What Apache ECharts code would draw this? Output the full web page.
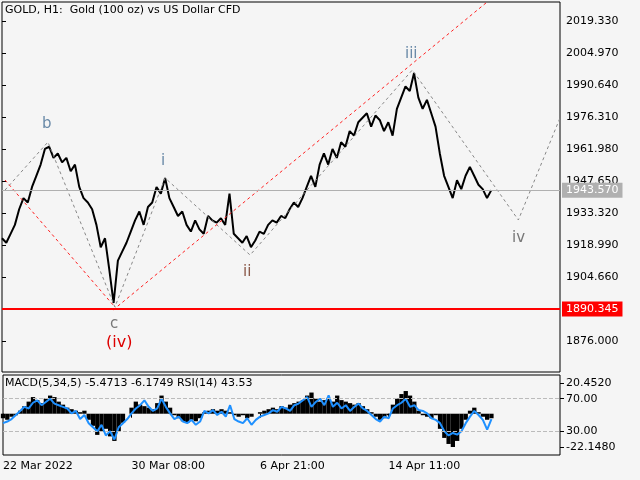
<!DOCTYPE html>
<html><head><meta charset="utf-8">
<script src="https://cdn.jsdelivr.net/npm/echarts@6/dist/echarts.min.js"></script>
<style>html,body{margin:0;background:#f5f5f5}#c{width:640px;height:480px}</style>
</head><body><div id="c"></div>
<script>
var closes=[1922,1920,1924,1928,1935,1940,1938,1945,1950,1955,1962,
1963,1958,1960,1956,1958,1952,1955,1945,1940,1938,
1935,1928,1918,1922,1908,1893,1912,1916,1920,1925,
1930,1934,1928,1936,1938,1945,1942,1949,1940,1936,
1932,1934,1928,1925,1930,1926,1924,1932,1930,1929,
1931,1928,1942,1924,1922,1920,1923,1918,1921,1925,
1924,1928,1930,1929,1932,1931,1935,1938,1936,1940,
1945,1950,1945,1955,1960,1955,1962,1958,1965,1963,
1970,1968,1974,1976,1978,1972,1977,1975,1970,1974,
1968,1980,1985,1990,1988,1996,1985,1980,1984,1978,
1972,1960,1950,1945,1940,1948,1944,1950,1954,1950,1946,1944,1940,1943.57];
var macd=[-3,-4,-2,-1,2, 5,8,11,9,7,10,12,11,8,6, 4,3,2,1,2, -4,-8,-14,-12,-10,-15,-18,-12,
-6,0,4,8,6, 5,4,3,7,12,8, 4,-1,-3,-5,-6,-4,-5,-3, 1,2,3,2,3,2,1, -1,-2,-1,-3,-2,0,1,
2,3,4,3,5,4,6,7,8, 9,12,14,10,8,9,10, 8,12,9,8,7,6,7,5,3,1, -2,-4,-3,-1, 6,10,13,15,12,8,
2,-1,-2,-3,-1, -10,-16,-20,-22,-18,-10,-4,2, 4,1,-2,-4,-3];
var rsi=[40,42,45,50,55,60,58,65,68,62,66,70,64,62,60,
58,52,55,45,50,40,35,30,38,25,30,20,35,
40,45,52,58,62,68,60,55,58,70,60,
52,45,48,42,40,44,38,42,55,52,56,50,54,48,62,
45,42,40,46,38,44,48,
50,52,56,54,60,58,55,62,64,68,72,60,66,70,62,74,
60,65,58,62,55,60,64,58,55,50,45,42,48,46,
58,62,65,70,60,62,56,55,52,46,44,
40,30,25,28,26,30,40,48,55,50,44,32,45];
var tickLabels=["22 Mar 2022","30 Mar 08:00","6 Apr 21:00","14 Apr 11:00"];
var tickIdx=[0,30,60,90];
var priceTicks=[2019.330,2004.970,1990.640,1976.310,1961.980,1947.650,1933.320,1918.990,1904.660,1876.000];
var priceTickLabels=["2019.330","2004.970","1990.640","1976.310","1961.980","1947.650","1933.320","1918.990","1904.660","1876.000"];
var wave=[[0.7,1943.6],[10.7,1965.1],[26.3,1891.2],[38,1949],[57.8,1914.5],[95.6,1997.4],[120.3,1930.2],[130,1975.9]];
var channel=[[25.9,1889.9],[113,2027.8]];
var channel2=[[0.7,1948.1],[26.3,1891.2]];
var lastPrice=1943.570, support=1890.345;

var N=131, cats=[];for(var i=0;i<N;i++)cats.push(i);
var chart=echarts.init(document.getElementById('c'));
var ax={color:'#000',fontSize:11,fontFamily:'DejaVu Sans'};
chart.setOption({
 backgroundColor:'#f5f5f5',animation:false,
 grid:[{left:2,top:2,width:558,height:370,show:true,borderColor:'#000',borderWidth:1},
       {left:2,top:375,width:558,height:80,show:true,borderColor:'#000',borderWidth:1}],
 xAxis:[{type:'category',data:cats,gridIndex:0,boundaryGap:false,axisLine:{show:false},axisTick:{show:false},axisLabel:{show:false}},
  {type:'category',data:cats,gridIndex:1,boundaryGap:false,axisLine:{show:false},
   axisTick:{show:true,interval:function(i){return tickIdx.indexOf(i)>=0;},lineStyle:{color:'#000'},length:4,inside:false},
   axisLabel:Object.assign({interval:function(i){return tickIdx.indexOf(i)>=0;},align:'left',margin:6,
     formatter:function(v,i){var k=tickIdx.indexOf(i);return k>=0?tickLabels[k]:'';}},ax)},
  {type:'value',gridIndex:0,min:0,max:130,show:false}],
 yAxis:[{type:'value',gridIndex:0,position:'right',min:1862.1,max:2027.84,splitLine:{show:false},
   axisLine:{show:false},axisTick:{show:true,customValues:priceTicks,length:4,lineStyle:{color:'#000'}},
   axisLabel:Object.assign({customValues:priceTicks,formatter:function(v){var k=priceTicks.indexOf(v);return k>=0?priceTickLabels[k]:v.toFixed(3);},margin:6},ax)},
  {type:'value',gridIndex:1,position:'right',min:-27.3,max:25.6,splitLine:{show:false},axisLine:{show:false},
   axisTick:{show:true,customValues:[20.452,-22.148],length:4,lineStyle:{color:'#000'}},
   axisLabel:Object.assign({customValues:[20.452,-22.148],formatter:function(v){return v.toFixed(4);},margin:6},ax)},
  {type:'value',gridIndex:1,position:'right',min:1,max:99,splitLine:{show:false},axisLine:{show:false},
   axisTick:{show:true,customValues:[70,30],length:4,lineStyle:{color:'#000'}},
   axisLabel:Object.assign({customValues:[70,30],formatter:function(v){return v.toFixed(2);},margin:6},ax)}],
 series:[
  {type:'line',xAxisIndex:0,yAxisIndex:0,data:closes,symbol:'none',lineStyle:{color:'#000',width:2},
   markLine:{symbol:'none',silent:true,data:[
    {yAxis:lastPrice,lineStyle:{color:'#b0b0b0',type:'solid',width:1},label:{position:'end',formatter:lastPrice.toFixed(3),color:'#fff',backgroundColor:'#b0b0b0',padding:[2,4],fontSize:11,fontFamily:'DejaVu Sans',distance:2}},
    {yAxis:support,lineStyle:{color:'#ff0000',type:'solid',width:2},label:{position:'end',formatter:support.toFixed(3),color:'#fff',backgroundColor:'#ff0000',padding:[2,4],fontSize:11,fontFamily:'DejaVu Sans',distance:2}}]}},
  {type:'line',xAxisIndex:2,yAxisIndex:0,data:wave,symbol:'none',lineStyle:{color:'#888',type:[3,3],width:1}},
  {type:'line',xAxisIndex:2,yAxisIndex:0,data:channel,symbol:'none',lineStyle:{color:'#ff2020',type:[3,3],width:1}},
  {type:'line',xAxisIndex:2,yAxisIndex:0,data:channel2,symbol:'none',lineStyle:{color:'#ff2020',type:[3,3],width:1}},
  {type:'bar',xAxisIndex:1,yAxisIndex:1,data:macd,barWidth:'100%',barCategoryGap:'0%',itemStyle:{color:'#000'}},
  {type:'line',xAxisIndex:1,yAxisIndex:2,data:rsi,symbol:'none',lineStyle:{color:'#1e90ff',width:2},
   markLine:{symbol:'none',silent:true,label:{show:false},lineStyle:{color:'#bbb',type:'dashed',width:1},data:[{yAxis:70},{yAxis:30}]}}
 ],
 graphic:[
  {type:'text',left:5,top:5,style:{text:'GOLD, H1:  Gold (100 oz) vs US Dollar CFD',fill:'#000',font:'11px DejaVu Sans'}},
  {type:'text',left:5,top:378,style:{text:'MACD(5,34,5) -5.4713 -6.1749 RSI(14) 43.53',fill:'#000',font:'11px DejaVu Sans'}},
  {type:'text',left:42,top:117,style:{text:'b',fill:'#6a8aa8',font:'15px DejaVu Sans'}},
  {type:'text',left:161,top:154,style:{text:'i',fill:'#6a8aa8',font:'15px DejaVu Sans'}},
  {type:'text',left:405,top:47,style:{text:'iii',fill:'#6a8aa8',font:'15px DejaVu Sans'}},
  {type:'text',left:243,top:265,style:{text:'ii',fill:'#8b5a4a',font:'15px DejaVu Sans'}},
  {type:'text',left:512,top:231,style:{text:'iv',fill:'#777',font:'15px DejaVu Sans'}},
  {type:'text',left:110,top:317,style:{text:'c',fill:'#777',font:'15px DejaVu Sans'}},
  {type:'text',left:106,top:335,style:{text:'(iv)',fill:'#dd0000',font:'16px DejaVu Sans'}}
 ]
});
</script></body></html>
